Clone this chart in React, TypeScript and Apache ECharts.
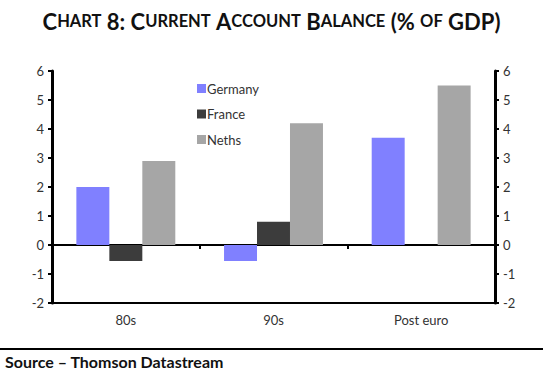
import React, { useEffect, useRef } from "react";
import * as echarts from "echarts";

const categories = ["80s", "90s", "Post euro"];
const germany = [2.0, -0.55, 3.7];
const france = [-0.55, 0.8, 0];
const neths = [2.9, 4.2, 5.5];
const yTicks = [-2, -1, 0, 1, 2, 3, 4, 5, 6];

const titleParts: [string, string][] = [
  ["C", "b"], ["HART", "s"], [" 8: ", "b"], ["C", "b"], ["URRENT", "s"], [" ", "b"],
  ["A", "b"], ["CCOUNT", "s"], [" ", "b"], ["B", "b"], ["ALANCE", "s"], [" (% ", "b"],
  ["OF", "s"], [" GDP)", "b"],
];

export default function App() {
  const ref = useRef<HTMLDivElement>(null);
  useEffect(() => {
    const chart = echarts.init(ref.current!, null, { renderer: "svg" });
    const font = "Lato";
    const axisLabel = { color: "#333", fontSize: 13, fontFamily: font };
    const titleText = titleParts.map(([t, s]) => `{${s}|${t}}`).join("");
    chart.setOption({
      animation: false,
      backgroundColor: "#fff",
      title: {
        text: titleText,
        left: "center",
        top: 5,
        textStyle: {
          rich: {
            b: { fontSize: 22, fontWeight: "bold", fontFamily: font, color: "#111" },
            s: { fontSize: 16.5, fontWeight: "bold", fontFamily: font, color: "#111" },
          },
        },
      },
      legend: {
        orient: "vertical",
        left: 192,
        top: 77,
        itemWidth: 9,
        itemHeight: 9,
        itemGap: 12.5,
        icon: "rect",
        textStyle: { color: "#333", fontSize: 13, fontFamily: font, padding: [0, 0, 0, -4] },
        data: ["Germany", "France", "Neths"],
      },
      grid: { left: 52, right: 48, top: 71, bottom: 72 },
      xAxis: [
        {
          type: "category",
          data: categories,
          position: "bottom",
          axisLine: { onZero: false, lineStyle: { color: "#000", width: 2 } },
          axisTick: { show: false },
          axisLabel: { ...axisLabel, margin: 10 },
        },
        {
          type: "category",
          data: categories,
          position: "bottom",
          axisLine: { onZero: true, onZeroAxisIndex: 0, lineStyle: { color: "#000", width: 2 } },
          axisTick: { show: true, length: 4, lineStyle: { color: "#000", width: 2 } },
          axisLabel: { show: false },
        },
      ],
      yAxis: [
        {
          type: "value",
          min: -2,
          max: 6,
          interval: 1,
          position: "left",
          splitLine: { show: false },
          axisLine: { show: true, lineStyle: { color: "#000", width: 3 } },
          axisTick: { show: true, length: 4, lineStyle: { color: "#000", width: 2 } },
          axisLabel: { ...axisLabel, margin: 8, customValues: yTicks },
        },
        {
          type: "value",
          min: -2,
          max: 6,
          interval: 1,
          position: "right",
          splitLine: { show: false },
          axisLine: { show: true, lineStyle: { color: "#000", width: 3 } },
          axisTick: { show: true, length: 4, lineStyle: { color: "#000", width: 2 } },
          axisLabel: { ...axisLabel, margin: 8 },
        },
      ],
      series: [
        { name: "Germany", type: "bar", data: germany, itemStyle: { color: "#8080ff" }, barGap: "0%", barCategoryGap: "33%" },
        { name: "France", type: "bar", data: france, itemStyle: { color: "#3c3c3c" }, barGap: "0%", barCategoryGap: "33%" },
        { name: "Neths", type: "bar", data: neths, itemStyle: { color: "#a6a6a6" }, barGap: "0%", barCategoryGap: "33%" },
      ],
      graphic: [
        { type: "line", shape: { x1: 0, y1: 349, x2: 543, y2: 349 }, style: { stroke: "#000", lineWidth: 2 } },
        {
          type: "text",
          x: 5,
          y: 353,
          style: { text: "Source – Thomson Datastream", fontSize: 16, fontWeight: "bold", fontFamily: font, fill: "#111" },
        },
      ],
    });
    return () => chart.dispose();
  }, []);
  return <div ref={ref} style={{ width: 543, height: 375, position: "fixed", left: 0, top: 0 }} />;
}
